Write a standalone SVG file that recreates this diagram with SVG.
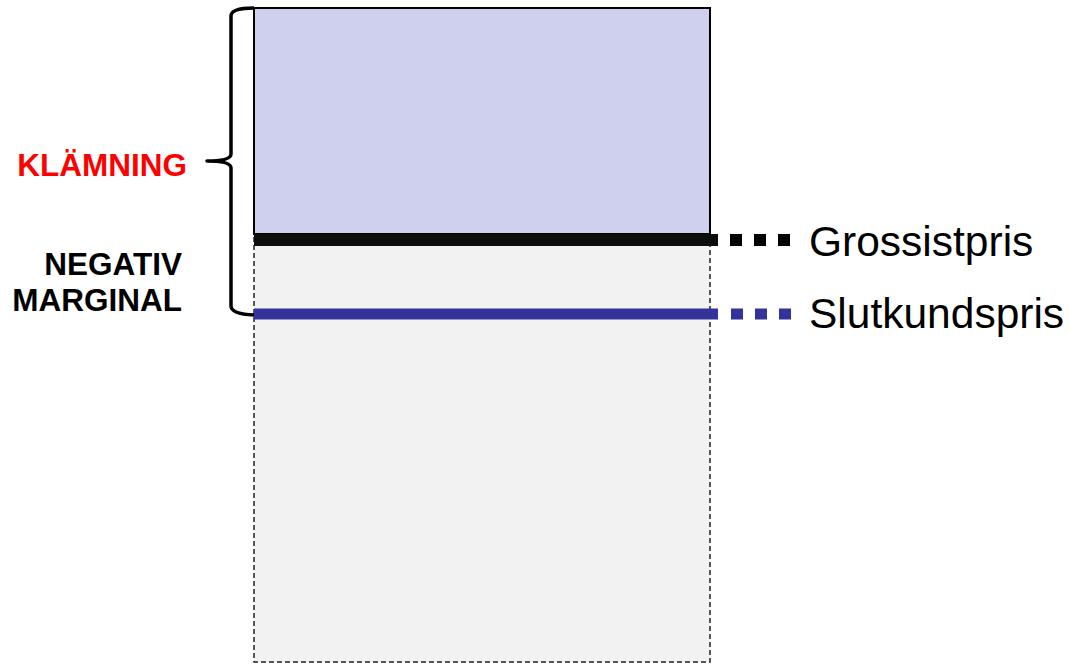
<svg xmlns="http://www.w3.org/2000/svg" width="1070" height="664" viewBox="0 0 1070 664">
  <style>
    .lbl { font-family: "Liberation Sans", Arial, sans-serif; }
    .side { font-size: 31.5px; font-weight: bold; text-anchor: end; }
    .price { font-size: 42.5px; fill: #000; }
  </style>
  <rect width="1070" height="664" fill="#fff"/>

  <!-- lower area: end-customer price space -->
  <g id="lower-area">
    <rect x="254" y="234" width="456" height="428" fill="#F2F2F2" stroke="#222" stroke-width="1.5" stroke-dasharray="5 3"/>
  </g>

  <!-- upper area: wholesale price space -->
  <g id="upper-area">
    <rect x="254" y="8" width="456" height="226" fill="#CFCFEE" stroke="#000" stroke-width="2"/>
  </g>

  <!-- brace spanning squeeze and negative margin -->
  <g id="brace">
    <path d="M 254 8 Q 231 8 231 16 L 231 154 Q 231 161 207 161 Q 231 161 231 168 L 231 306 Q 231 314 254 315" fill="none" stroke="#000" stroke-width="3.5" stroke-linejoin="round"/>
  </g>

  <g id="connectors">
    <!-- wholesale price line -->
    <line x1="254" y1="240" x2="718" y2="240" stroke="#0D0D0D" stroke-width="12"/>
    <line x1="730" y1="240" x2="790" y2="240" stroke="#000" stroke-width="12" stroke-dasharray="12 12"/>
    <!-- end-customer price line -->
    <line x1="254" y1="314" x2="718" y2="314" stroke="#333399" stroke-width="11"/>
    <line x1="731" y1="314" x2="791" y2="314" stroke="#333399" stroke-width="11" stroke-dasharray="12 12"/>
  </g>

  <g id="label-squeeze">
    <text class="lbl side" x="187" y="176" fill="#FF0000">KLÄMNING</text>
  </g>
  <g id="label-negative-margin">
    <text class="lbl side" x="182" y="275" fill="#000">NEGATIV</text>
    <text class="lbl side" x="182" y="311" fill="#000">MARGINAL</text>
  </g>
  <g id="label-wholesale">
    <text class="lbl price" x="809" y="256">Grossistpris</text>
  </g>
  <g id="label-end-customer">
    <text class="lbl price" x="809" y="328">Slutkundspris</text>
  </g>
</svg>
